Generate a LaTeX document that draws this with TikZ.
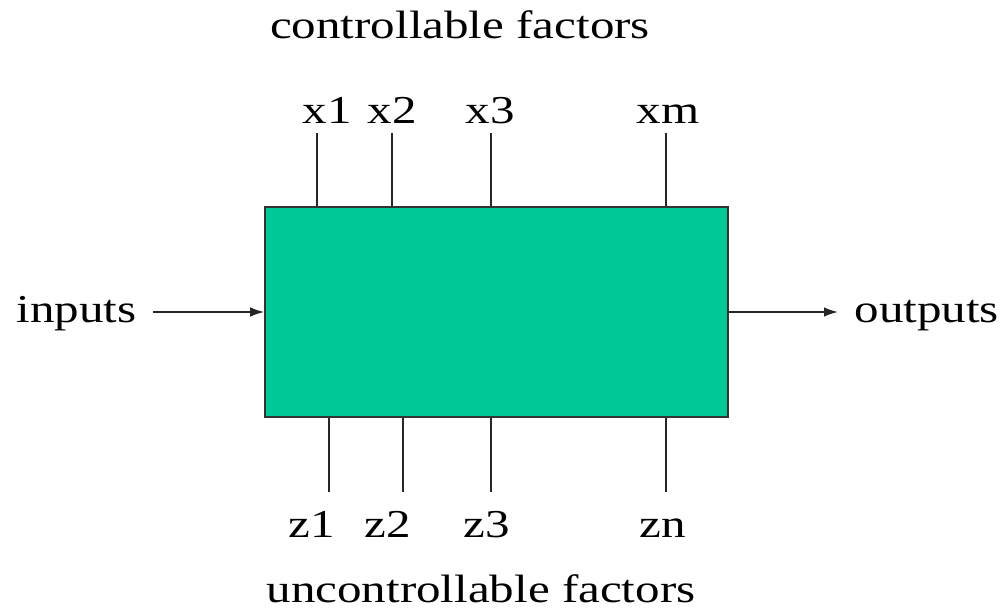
\documentclass[tikz,border=0pt]{standalone}
\usepackage{fontspec}
\setmainfont{Liberation Serif}
\usepackage{tikz}
\usetikzlibrary{arrows.meta, positioning, calc}
\definecolor{boxgreen}{HTML}{00C896}

\begin{document}
\begin{tikzpicture}[
    lbl/.style={font=\fontsize{22.5}{26}\selectfont, inner sep=0pt, anchor=base, xscale=1.24, transform shape},
    io/.style={lbl, inner xsep=0.26cm},
    factor/.style={line width=0.85pt, draw=black!85},
    flow/.style={line width=0.85pt, draw=black!85, -{Latex[length=2.8mm, width=1.9mm]}},
    blackbox/.style={rectangle, draw=black!80, line width=0.9pt, fill=boxgreen, minimum width=9.26cm, minimum height=4.2cm, inner sep=0pt},
]
    \useasboundingbox (0,0) rectangle (20.16,-12.3);
    % Process
    \node[blackbox] (box) at (9.93,-6.24) {};
    % Controllable factors
    \node[lbl] (ctitle) at (9.2,-0.78) {controllable factors};
    \foreach \name/\lx/\tx/\txt in {x1/6.54/6.34/x1, x2/7.84/7.84/x2, x3/9.8/9.82/x3, xm/13.36/13.32/xm} {
        \node[lbl] (\name) at (\lx,-2.46) {\txt};
        \coordinate (t\name) at (\tx,-2.66);
        \draw[factor] (t\name) -- (t\name |- box.north);
    }
    % Uncontrollable factors
    \foreach \name/\lx/\bx/\txt in {z1/6.24/6.58/z1, z2/7.76/8.06/z2, z3/9.74/9.82/z3, zn/13.26/13.32/zn} {
        \node[lbl] (\name) at (\lx,-10.74) {\txt};
        \coordinate (b\name) at (\bx,-9.84);
        \draw[factor] (b\name |- box.south) -- (b\name);
    }
    \node[lbl] (utitle) at (9.62,-12.04) {uncontrollable factors};
    % Inputs and outputs
    \node[io, anchor=base east] (inputs) at (3.06,-6.44) {inputs};
    \node[io, anchor=base west] (outputs) at (16.76,-6.44) {outputs};
    \draw[flow] (inputs.east |- box.west) -- (box.west);
    \draw[flow] (box.east) -- (box.east -| outputs.west);
\end{tikzpicture}
\end{document}
